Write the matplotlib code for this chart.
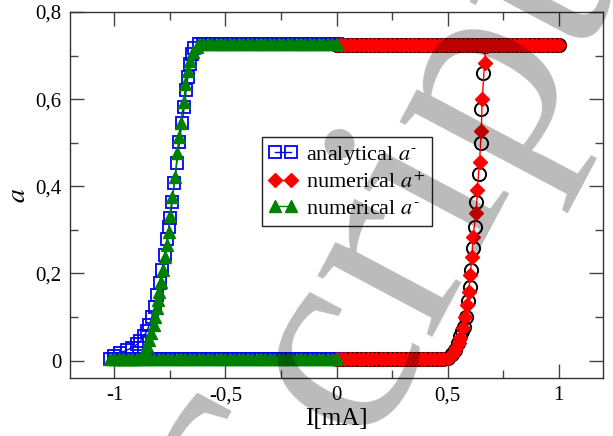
import matplotlib
matplotlib.use("Agg")
import matplotlib.pyplot as plt
from matplotlib.ticker import MultipleLocator, FuncFormatter

# current sweep grids (I in mA)
I_plus_low = [0.00, 0.02, 0.04, 0.06, 0.08, 0.10, 0.12, 0.14, 0.16, 0.18, 0.20, 0.22, 0.24,
              0.26, 0.28, 0.30, 0.32, 0.34, 0.36, 0.38, 0.40, 0.42, 0.44, 0.46, 0.48, 0.50]
a_plus_low = [0.003, 0.003, 0.003, 0.003, 0.003, 0.003, 0.003, 0.003, 0.003, 0.003, 0.003, 0.003, 0.003,
              0.003, 0.003, 0.003, 0.003, 0.003, 0.003, 0.003, 0.003, 0.003, 0.003, 0.003, 0.004, 0.005]

I_plus_top = [1.00, 0.98, 0.96, 0.94, 0.92, 0.90, 0.88, 0.86, 0.84, 0.82, 0.80, 0.78, 0.76,
              0.74, 0.72, 0.70, 0.68, 0.66, 0.64, 0.62, 0.60, 0.58, 0.56, 0.54, 0.52, 0.50,
              0.48, 0.46, 0.44, 0.42, 0.40, 0.38, 0.36, 0.34, 0.32, 0.30, 0.28, 0.26, 0.24,
              0.22, 0.20, 0.18, 0.16, 0.14, 0.12, 0.10, 0.08, 0.06, 0.04, 0.02, 0.00]
a_plus_top = [0.725, 0.725, 0.725, 0.725, 0.725, 0.725, 0.725, 0.725, 0.725, 0.725, 0.725, 0.725, 0.725,
              0.725, 0.725, 0.725, 0.725, 0.725, 0.725, 0.725, 0.725, 0.725, 0.725, 0.725, 0.725, 0.725,
              0.725, 0.725, 0.725, 0.725, 0.725, 0.725, 0.725, 0.725, 0.725, 0.725, 0.725, 0.725, 0.725,
              0.725, 0.725, 0.725, 0.725, 0.725, 0.725, 0.725, 0.725, 0.725, 0.725, 0.725, 0.725]

I_minus_low = [0.00, -0.02, -0.04, -0.06, -0.08, -0.10, -0.12, -0.14, -0.16, -0.18, -0.20, -0.22, -0.24,
               -0.26, -0.28, -0.30, -0.32, -0.34, -0.36, -0.38, -0.40, -0.42, -0.44, -0.46, -0.48, -0.50,
               -0.52, -0.54, -0.56, -0.58, -0.60, -0.62, -0.64, -0.66, -0.68, -0.70, -0.72, -0.74, -0.76,
               -0.78, -0.80, -0.82, -0.84, -0.86, -0.88, -0.90, -0.92, -0.94, -0.96, -0.98, -1.00, -1.02]
a_minus_low = [0.003, 0.003, 0.003, 0.003, 0.003, 0.003, 0.003, 0.003, 0.003, 0.003, 0.003, 0.003, 0.003,
               0.003, 0.003, 0.003, 0.003, 0.003, 0.003, 0.003, 0.003, 0.003, 0.003, 0.003, 0.003, 0.003,
               0.003, 0.003, 0.003, 0.003, 0.003, 0.003, 0.003, 0.003, 0.003, 0.003, 0.003, 0.003, 0.003,
               0.003, 0.003, 0.003, 0.003, 0.003, 0.003, 0.003, 0.003, 0.003, 0.003, 0.003, 0.003, 0.003]

I_minus_top = [-0.62, -0.60, -0.58, -0.56, -0.54, -0.52, -0.50, -0.48, -0.46, -0.44, -0.42,
               -0.40, -0.38, -0.36, -0.34, -0.32, -0.30, -0.28, -0.26, -0.24, -0.22, -0.20,
               -0.18, -0.16, -0.14, -0.12, -0.10, -0.08, -0.06, -0.04, -0.02, 0.00]
a_minus_top = [0.726, 0.726, 0.726, 0.726, 0.726, 0.726, 0.726, 0.726, 0.726, 0.726, 0.726,
               0.726, 0.726, 0.726, 0.726, 0.726, 0.726, 0.726, 0.726, 0.726, 0.726, 0.726,
               0.726, 0.726, 0.726, 0.726, 0.726, 0.726, 0.726, 0.726, 0.726, 0.726]

# switching parts of the loops
I_an_plus = [0.520, 0.535, 0.545, 0.554, 0.564, 0.572, 0.581, 0.591, 0.599, 0.604,
             0.614, 0.622, 0.629, 0.640, 0.649, 0.652, 0.659, 0.670]
a_an_plus = [0.015, 0.025, 0.040, 0.056, 0.068, 0.078, 0.101, 0.136, 0.170, 0.208,
             0.258, 0.307, 0.364, 0.429, 0.499, 0.578, 0.661, 0.722]

I_num_plus = [0.510, 0.520, 0.530, 0.540, 0.550, 0.557, 0.569, 0.580, 0.589, 0.595,
              0.602, 0.610, 0.614, 0.629, 0.634, 0.644, 0.652, 0.656, 0.667, 0.672]
a_num_plus = [0.008, 0.013, 0.020, 0.028, 0.040, 0.052, 0.075, 0.101, 0.128, 0.158,
              0.197, 0.238, 0.284, 0.338, 0.391, 0.456, 0.526, 0.600, 0.684, 0.722]

I_an_minus = [-1.004, -0.974, -0.944, -0.921, -0.899, -0.884, -0.869, -0.854, -0.843,
              -0.831, -0.819, -0.809, -0.796, -0.786, -0.774, -0.763, -0.755, -0.748,
              -0.740, -0.730, -0.719, -0.707, -0.697, -0.685, -0.677, -0.670, -0.659,
              -0.650, -0.640]
a_an_minus = [0.011, 0.018, 0.024, 0.029, 0.037, 0.044, 0.056, 0.067, 0.082,
              0.101, 0.123, 0.151, 0.178, 0.208, 0.242, 0.280, 0.307, 0.327,
              0.364, 0.408, 0.454, 0.501, 0.545, 0.583, 0.621, 0.650, 0.680,
              0.703, 0.718]

I_num_minus = [-1.00, -0.98, -0.96, -0.94, -0.92, -0.90, -0.88, -0.861, -0.854, -0.843,
               -0.834, -0.824, -0.816, -0.809, -0.804, -0.798, -0.790, -0.781, -0.770,
               -0.763, -0.755, -0.751, -0.740, -0.725, -0.718, -0.710, -0.702, -0.688,
               -0.680, -0.670, -0.658, -0.645, -0.630]
a_num_minus = [0.003, 0.003, 0.003, 0.003, 0.003, 0.003, 0.006, 0.021, 0.034, 0.048,
               0.063, 0.082, 0.101, 0.120, 0.139, 0.158, 0.181, 0.208, 0.238,
               0.265, 0.296, 0.331, 0.376, 0.421, 0.476, 0.513, 0.545, 0.593,
               0.635, 0.665, 0.688, 0.708, 0.720]

plt.rcParams['font.family'] = ['Liberation Serif', 'DejaVu Serif']
plt.rcParams['mathtext.fontset'] = 'stix'
plt.rcParams['axes.unicode_minus'] = False

fig = plt.figure(figsize=(6.13, 4.36), dpi=100)
ax = fig.add_axes([70 / 613, 58 / 436, 533 / 613, 366 / 436])

# analytical a+ (no legend entry)
ax.plot(I_plus_low + I_an_plus + I_plus_top, a_plus_low + a_an_plus + a_plus_top,
        linestyle='none', marker='o', ms=9.5, mfc='none', mec='k', mew=1.4,
        label='_nolegend_')
ax.plot(I_minus_low + I_an_minus + I_minus_top, a_minus_low + a_an_minus + a_minus_top,
        color='blue', lw=1, marker='s', ms=8.5, mfc='none', mec='blue', mew=1.3,
        label=r'analytical $a^{\text{-}}$')
ax.plot(I_plus_low + I_num_plus + I_plus_top, a_plus_low + a_num_plus + a_plus_top,
        color='red', lw=1, marker='D', ms=7, mfc='red', mec='red',
        label='numerical $a^{+}$')
ax.plot(I_minus_low + I_num_minus + I_minus_top, a_minus_low + a_num_minus + a_minus_top,
        color='green', lw=1, marker='^', ms=8.5, mfc='green', mec='green',
        label=r'numerical $a^{\text{-}}$')

ax.set_xlim(-1.2, 1.2)
ax.set_ylim(-0.04, 0.8)
ax.xaxis.set_major_locator(MultipleLocator(0.5))
ax.xaxis.set_minor_locator(MultipleLocator(0.25))
ax.yaxis.set_major_locator(MultipleLocator(0.2))
ax.yaxis.set_minor_locator(MultipleLocator(0.1))


def comma(v, pos):
    if abs(v) < 1e-9:
        return '0'
    return f'{v:g}'.replace('.', ',')


ax.xaxis.set_major_formatter(FuncFormatter(comma))
ax.yaxis.set_major_formatter(FuncFormatter(comma))
ax.tick_params(which='both', direction='in', top=True, right=True,
               color='#444444', width=1, labelsize=15)
ax.tick_params(which='major', length=10, pad=6)
ax.tick_params(which='minor', length=6)
for sp in ax.spines.values():
    sp.set_color('#333333')
    sp.set_linewidth(1)

ax.set_xlabel('I[mA]', fontsize=18, labelpad=2)
ax.set_ylabel('$a$', fontsize=20, labelpad=3)

leg = ax.legend(loc='upper left', bbox_to_anchor=(0.36, 0.658), borderaxespad=0,
                numpoints=2, handlelength=1.3, handletextpad=0.4, borderpad=0.3,
                labelspacing=0.25, fontsize=16, fancybox=False, framealpha=1,
                edgecolor='#222222')
leg.get_frame().set_linewidth(1)

# grey watermark lying over the whole picture
fig.text(0.63, 0.44, 'Script', rotation=62, fontsize=205,
         color='k', alpha=0.27, ha='center', va='center',
         family='Liberation Serif', zorder=10)

fig.savefig('out.png', dpi=100)
